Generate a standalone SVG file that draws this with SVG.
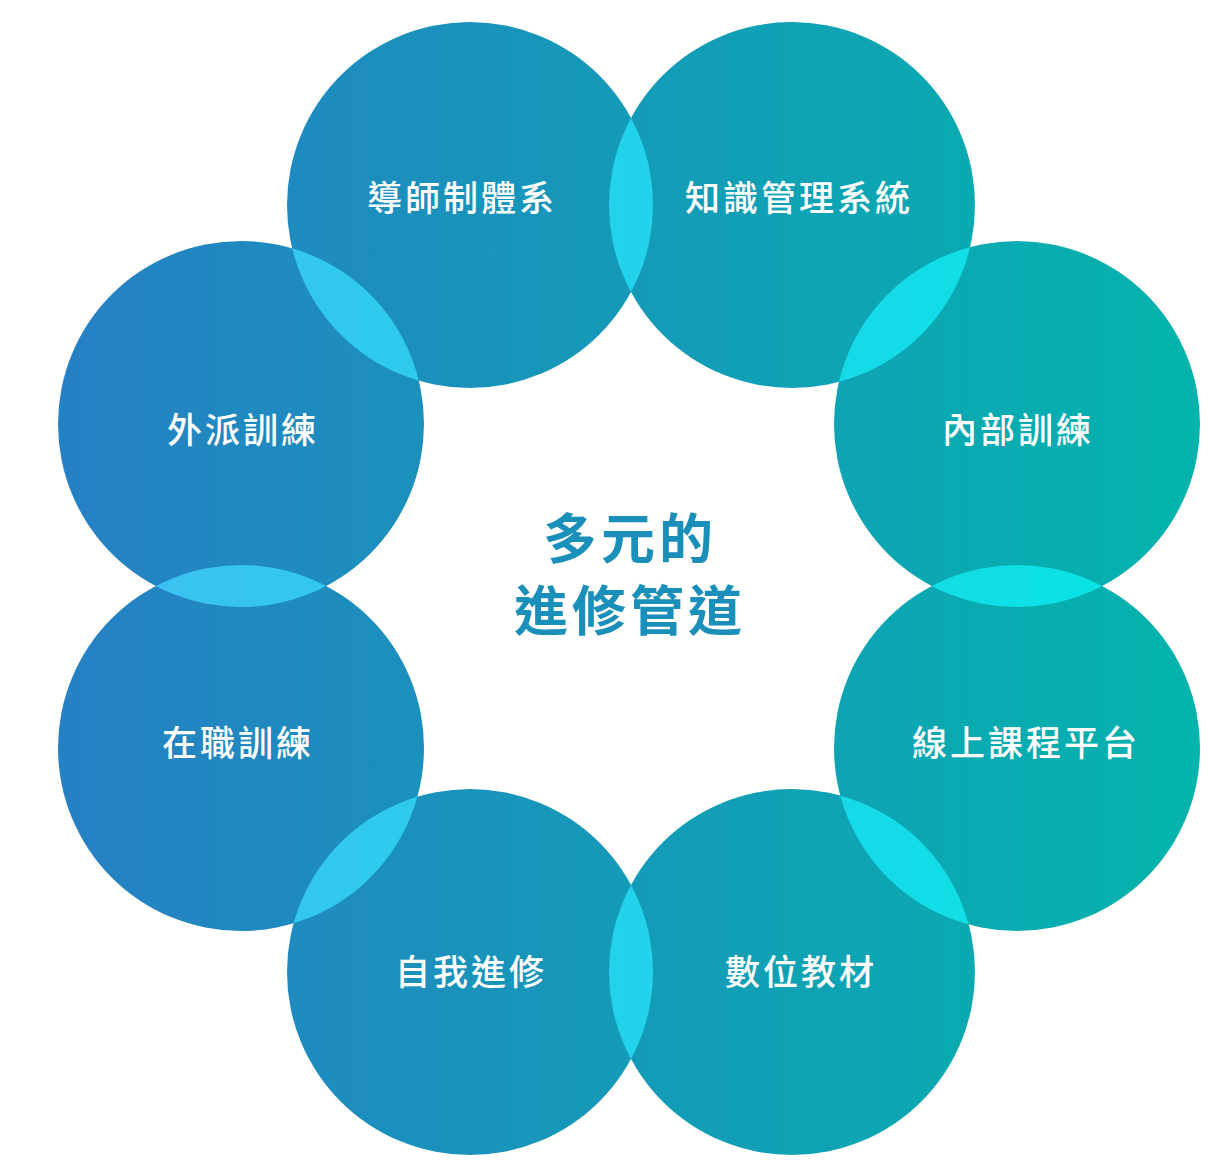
<svg xmlns="http://www.w3.org/2000/svg" xmlns:xlink="http://www.w3.org/1999/xlink" width="1213" height="1174" viewBox="0 0 1213 1174">
<style>
.lbl{font-family:"Noto Sans CJK TC","Noto Sans CJK SC",sans-serif;font-size:35px;font-weight:500;fill:#fff;text-anchor:middle;letter-spacing:3px}
.ttl{font-family:"Noto Sans CJK TC","Noto Sans CJK SC",sans-serif;font-size:54px;font-weight:700;fill:#1A8FBA;text-anchor:middle;letter-spacing:4px}
</style>
<defs>
<linearGradient id="g" gradientUnits="userSpaceOnUse" x1="58" y1="0" x2="1200" y2="0"><stop offset="0" stop-color="#2680C4"/><stop offset="1" stop-color="#03B4AC"/></linearGradient>
<linearGradient id="gl" gradientUnits="userSpaceOnUse" x1="58" y1="0" x2="1200" y2="0"><stop offset="0" stop-color="#40BEF2"/><stop offset="1" stop-color="#05E6E4"/></linearGradient>
<circle id="c1" cx="470" cy="205" r="183"/>
<circle id="c2" cx="792" cy="205" r="183"/>
<circle id="c3" cx="1017" cy="424" r="183"/>
<circle id="c4" cx="1017" cy="748" r="183"/>
<circle id="c5" cx="792" cy="972" r="183"/>
<circle id="c6" cx="470" cy="972" r="183"/>
<circle id="c7" cx="241" cy="748" r="183"/>
<circle id="c8" cx="241" cy="424" r="183"/>
<clipPath id="k1"><use xlink:href="#c1"/></clipPath>
<clipPath id="k2"><use xlink:href="#c2"/></clipPath>
<clipPath id="k3"><use xlink:href="#c3"/></clipPath>
<clipPath id="k4"><use xlink:href="#c4"/></clipPath>
<clipPath id="k5"><use xlink:href="#c5"/></clipPath>
<clipPath id="k6"><use xlink:href="#c6"/></clipPath>
<clipPath id="k7"><use xlink:href="#c7"/></clipPath>
<clipPath id="k8"><use xlink:href="#c8"/></clipPath>
</defs>
<g fill="url(#g)">
<g id="n1"><use xlink:href="#c1"/><text class="lbl" x="462" y="211">導師制體系</text></g>
<g id="n2"><use xlink:href="#c2"/><text class="lbl" x="799" y="211">知識管理系統</text></g>
<g id="n3"><use xlink:href="#c3"/><text class="lbl" x="1018" y="443">內部訓練</text></g>
<g id="n4"><use xlink:href="#c4"/><text class="lbl" x="1026" y="756">線上課程平台</text></g>
<g id="n5"><use xlink:href="#c5"/><text class="lbl" x="801" y="985">數位教材</text></g>
<g id="n6"><use xlink:href="#c6"/><text class="lbl" x="471" y="985">自我進修</text></g>
<g id="n7"><use xlink:href="#c7"/><text class="lbl" x="238" y="756">在職訓練</text></g>
<g id="n8"><use xlink:href="#c8"/><text class="lbl" x="243" y="443">外派訓練</text></g>
</g>
<g id="overlaps" fill="url(#gl)">
<use xlink:href="#c2" clip-path="url(#k1)"/>
<use xlink:href="#c3" clip-path="url(#k2)"/>
<use xlink:href="#c4" clip-path="url(#k3)"/>
<use xlink:href="#c5" clip-path="url(#k4)"/>
<use xlink:href="#c6" clip-path="url(#k5)"/>
<use xlink:href="#c7" clip-path="url(#k6)"/>
<use xlink:href="#c8" clip-path="url(#k7)"/>
<use xlink:href="#c1" clip-path="url(#k8)"/>
</g>
<g id="center">
<text class="ttl" x="630" y="559">多元的</text>
<text class="ttl" x="630" y="631">進修管道</text>
</g>
</svg>
